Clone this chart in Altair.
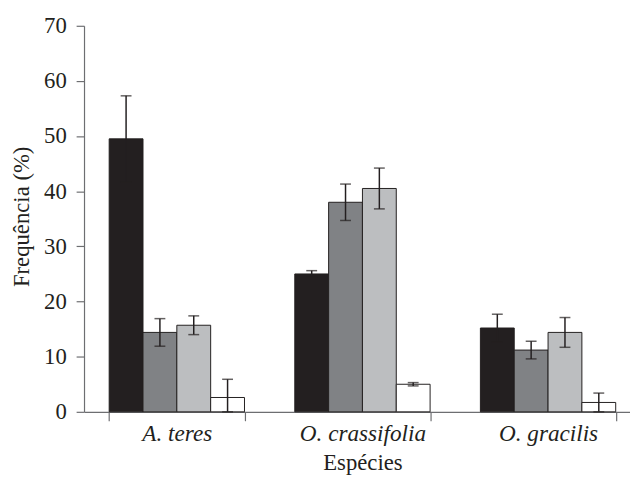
import altair as alt
import pandas as pd

species = ["A. teres", "O. crassifolia", "O. gracilis"]
series = ["Série 1", "Série 2", "Série 3", "Série 4"]
colors = ["#231f20", "#808285", "#bcbec0", "#ffffff"]

values_s1 = [49.5, 25.0, 15.2]
values_s2 = [14.4, 38.0, 11.2]
values_s3 = [15.7, 40.5, 14.4]
values_s4 = [2.6, 5.0, 1.7]

err_s1 = [7.8, 0.6, 2.5]
err_s2 = [2.5, 3.3, 1.6]
err_s3 = [1.7, 3.7, 2.7]
err_s4 = [3.3, 0.3, 1.7]

y_ticks = [0, 10, 20, 30, 40, 50, 60, 70]

rows = []
for s, vals, errs in zip(series,
                         [values_s1, values_s2, values_s3, values_s4],
                         [err_s1, err_s2, err_s3, err_s4]):
    for sp, v, e in zip(species, vals, errs):
        rows.append({"species": sp, "serie": s, "value": v,
                     "low": max(v - e, 0), "high": v + e})
df = pd.DataFrame(rows)

FONT = "Liberation Serif"
INK = "#231f20"
AXIS = "#6d6e71"

x_enc = alt.X("species:N", sort=species,
              scale=alt.Scale(paddingInner=0.271, paddingOuter=0.1355),
              axis=alt.Axis(title="Espécies", labelAngle=0, tickBand="extent",
                            labelFont=FONT, titleFont=FONT,
                            labelFontStyle="italic", labelFontSize=23.5,
                            labelPadding=1, tickSize=9,
                            titleX=282, titleY=58, titleBaseline="alphabetic"))
xo_enc = alt.XOffset("serie:N", sort=series,
                     scale=alt.Scale(paddingInner=0, paddingOuter=0))
y_scale = alt.Scale(domain=[0, 70], nice=False)

base = alt.Chart(df).encode(x=x_enc, xOffset=xo_enc)

bars = base.mark_bar(stroke=INK, strokeWidth=1).encode(
    y=alt.Y("value:Q", scale=y_scale,
            axis=alt.Axis(title="Frequência (%)", values=y_ticks, grid=False,
                          labelFont=FONT, titleFont=FONT,
                          labelFontSize=23, labelPadding=10, tickSize=8,
                          titleX=-56, titleY=193, titleBaseline="alphabetic")),
    color=alt.Color("serie:N", sort=series,
                    scale=alt.Scale(domain=series, range=colors), legend=None),
)

rule = base.mark_rule(color=INK, strokeWidth=1.5).encode(
    y=alt.Y("low:Q", scale=y_scale), y2="high:Q")
cap_hi = base.mark_tick(color=INK, orient="horizontal", size=11,
                        thickness=1.5).encode(y=alt.Y("high:Q", scale=y_scale))
cap_lo = base.mark_tick(color=INK, orient="horizontal", size=11,
                        thickness=1.5).encode(y=alt.Y("low:Q", scale=y_scale))

chart = alt.layer(bars, rule, cap_hi, cap_lo).properties(
    width=564, height=391,
    autosize=alt.AutoSizeParams(type="none"),
    padding={"left": 77, "top": 15, "right": -11, "bottom": 64},
).configure(font=FONT).configure_view(stroke=None).configure_axis(
    labelFont=FONT, titleFont=FONT, labelColor=INK, titleColor=INK,
    titleFontSize=23, titleFontWeight="normal", domainColor=AXIS,
    tickColor=AXIS, domainWidth=1.2, tickWidth=1.2,
)

chart.save("out.html", embed_options={"renderer": "svg", "actions": False})
